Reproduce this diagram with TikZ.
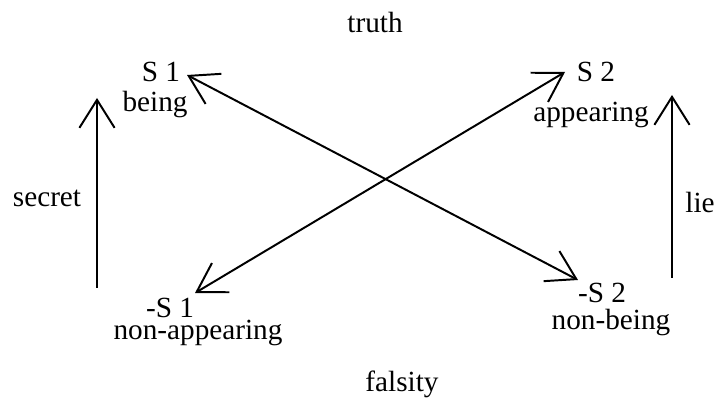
\documentclass[tikz,border=0pt]{standalone}
\usepackage{fontspec}
\setmainfont{Liberation Serif}
\usetikzlibrary{arrows.meta}
\tikzset{
    barb/.style={line width=1.4pt, -{Straight Barb[length=0.7cm, width=0.88cm]}, line join=round},
    dblbarb/.style={line width=1.4pt, {Straight Barb[length=0.7cm, width=0.85cm]}-{Straight Barb[length=0.7cm, width=0.85cm]}, line join=round},
    lbl/.style={anchor=base, inner sep=0pt, font=\fontsize{20.8}{25}\selectfont},
    common settings/.style={
        x=0.025cm,
        y=-0.025cm
    }
}
\begin{document}
\begin{tikzpicture}[common settings]

    \useasboundingbox (0,0) rectangle (717,399);

    % Arrow end points
    \coordinate (s1tip) at (187,75);
    \coordinate (s2tip) at (565,72);
    \coordinate (ns1tip) at (195,293);
    \coordinate (ns2tip) at (578,280);
    \coordinate (secretlow) at (97,288);
    \coordinate (secrettip) at (97,98);
    \coordinate (lielow) at (672,278);
    \coordinate (lietip) at (672,95);

    % Top and bottom
    \node[lbl] (truth) at (375,33) {truth};
    \node[lbl] (falsity) at (402,391) {falsity};

    % Corners
    \node[lbl] (s1) at (161,82) {S 1};
    \node[lbl] (being) at (155,112) {being};
    \node[lbl] (s2) at (596,82) {S 2};
    \node[lbl] (appearing) at (591,122) {appearing};
    \node[lbl] (ns1) at (170,318) {-S 1};
    \node[lbl] (nonappearing) at (198,340) {non-appearing};
    \node[lbl] (ns2) at (602,303) {-S 2};
    \node[lbl] (nonbeing) at (611,330) {non-being};

    % Sides
    \node[lbl] (secret) at (47,207) {secret};
    \node[lbl] (lie) at (700,213) {lie};

    % Diagonals
    \draw[dblbarb] (s1tip) -- (ns2tip);
    \draw[dblbarb] (s2tip) -- (ns1tip);

    % Verticals
    \draw[barb] (secretlow) -- (secrettip);
    \draw[barb] (lielow) -- (lietip);

\end{tikzpicture}
\end{document}
